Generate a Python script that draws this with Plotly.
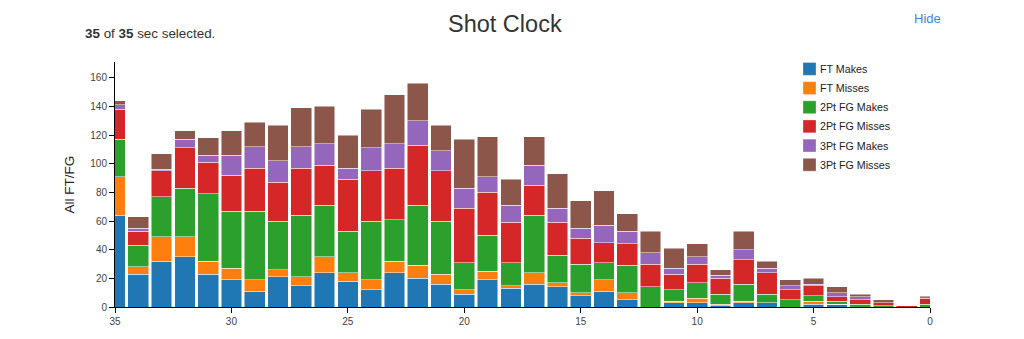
import plotly.graph_objects as go

shot_clock = list(range(35, -1, -1))
ft_makes = [64, 23, 32, 35, 23, 19, 11, 21, 15, 24, 18, 12, 24, 20, 16, 9, 19, 13, 16, 14, 8, 11, 5, 0, 3, 3, 1, 3, 3, 0, 2, 2, 0, 0, 0, 0]
ft_misses = [27, 5, 17, 14, 9, 8, 8, 5, 6, 11, 6, 7, 8, 9, 7, 3, 6, 2, 8, 3, 2, 8, 5, 0, 1, 3, 1, 1, 0, 0, 2, 0, 0, 0, 0, 0]
fg2_makes = [26, 15, 28, 34, 47, 40, 48, 34, 43, 36, 29, 41, 29, 42, 37, 19, 25, 16, 40, 19, 20, 12, 19, 14, 8, 11, 7, 12, 6, 5, 4, 2, 2, 1, 0, 2]
fg2_misses = [21, 10, 18, 28, 22, 25, 30, 27, 33, 28, 36, 35, 36, 42, 35, 38, 30, 28, 21, 23, 18, 14, 15, 16, 11, 13, 11, 17, 15, 7, 7, 3, 3, 2, 1, 4]
fg3_makes = [3, 2, 1, 6, 5, 14, 15, 15, 15, 15, 8, 16, 17, 17, 14, 14, 11, 12, 14, 10, 7, 12, 9, 8, 4, 5, 2, 7, 3, 3, 1, 3, 2, 0, 0, 1]
fg3_misses = [3, 8, 11, 6, 12, 17, 17, 25, 27, 26, 23, 27, 34, 26, 18, 34, 28, 18, 20, 24, 19, 24, 12, 15, 14, 9, 4, 13, 5, 4, 4, 4, 2, 2, 0, 1]

series_names = ["FT Makes", "FT Misses", "2Pt FG Makes", "2Pt FG Misses", "3Pt FG Makes", "3Pt FG Misses"]
series_values = [ft_makes, ft_misses, fg2_makes, fg2_misses, fg3_makes, fg3_misses]
colors = ["#1f77b4", "#ff7f0e", "#2ca02c", "#d62728", "#9467bd", "#8c564b"]

x_ticks = [35, 30, 25, 20, 15, 10, 5, 0]
y_ticks = [0, 20, 40, 60, 80, 100, 120, 140, 160]

FONT = "Liberation Sans, Arial, sans-serif"

W, H = 1024, 339
l, r, t, b = 115, 94, 62, 29
pw, ph = W - l - r, H - t - b
def px(xp):
    return (xp - l) / pw
def py(yp):
    return (H - b - yp) / ph

fig = go.Figure()
for name, vals, col in zip(series_names, series_values, colors):
    fig.add_trace(go.Bar(
        x=shot_clock, y=vals, name=name, showlegend=False,
        marker=dict(color=col, line=dict(color="rgba(255,255,255,0.8)", width=0.6)),
    ))

annotations = [
    dict(text="Shot Clock", xref="paper", yref="paper", x=px(505), y=py(24),
         xanchor="center", yanchor="middle", showarrow=False,
         font=dict(size=23.5, color="#333", family=FONT)),
    dict(text="<b>35</b> of <b>35</b> sec selected.", xref="paper", yref="paper",
         x=px(83), y=py(33), xanchor="left", yanchor="middle", showarrow=False,
         font=dict(size=13.4, color="#333", family=FONT)),
    dict(text="Hide", xref="paper", yref="paper", x=px(912), y=py(18),
         xanchor="left", yanchor="middle", showarrow=False,
         font=dict(size=13, color="#428bca", family=FONT)),
]
shapes = []
# legend (swatch + label per series)
for i, (name, col) in enumerate(zip(series_names, colors)):
    cy = 69 + 19.4 * i
    shapes.append(dict(type="rect", xref="paper", yref="paper",
                       x0=px(803), x1=px(816), y0=py(cy - 6.5), y1=py(cy + 6.5),
                       fillcolor=col, line=dict(color="rgba(255,255,255,0.6)", width=0.5)))
    annotations.append(dict(text=name, xref="paper", yref="paper", x=px(818), y=py(cy),
                            xanchor="left", yanchor="middle", showarrow=False,
                            font=dict(size=10.7, color="#222", family=FONT)))

fig.update_layout(
    barmode="stack",
    bargap=0.11,
    width=W, height=H,
    margin=dict(l=l, r=r, t=t, b=b),
    paper_bgcolor="white", plot_bgcolor="white",
    font=dict(family=FONT, color="#333"),
    showlegend=False,
    xaxis=dict(
        range=[35, 0], tickvals=x_ticks, ticktext=[str(v) for v in x_ticks],
        showgrid=False, zeroline=False, showline=True, linecolor="#000", linewidth=1,
        ticks="outside", ticklen=5, tickcolor="#000",
        tickfont=dict(size=10, color="#444"),
    ),
    yaxis=dict(
        range=[0, 171], tickvals=y_ticks,
        showgrid=False, zeroline=False, showline=True, linecolor="#000", linewidth=1,
        ticks="outside", ticklen=5, tickcolor="#000",
        tickfont=dict(size=10, color="#444"),
        title=dict(text="All FT/FG", font=dict(size=13.5, color="#222"), standoff=12),
    ),
    annotations=annotations,
    shapes=shapes,
)

fig.write_html("out.html")
